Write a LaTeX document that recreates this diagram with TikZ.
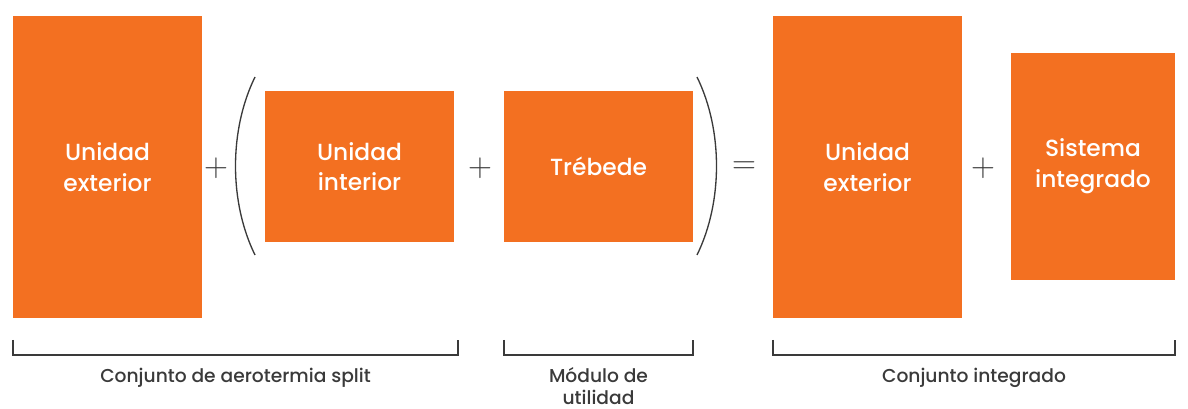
\documentclass[tikz,border=0pt]{standalone}
\usepackage{fontspec}
\setmainfont{Poppins}[BoldFont={Poppins Medium}]
\definecolor{naranja}{HTML}{F37021}
\definecolor{gris}{HTML}{3A3A3A}

\begin{document}
\begin{tikzpicture}[x=0.75pt,y=-0.75pt,line width=1pt,
  caja/.style={fill=naranja,inner sep=0pt,text=white,align=center,
    font=\fontsize{17.5}{23}\selectfont\bfseries},
  signo/.style={text=gris,inner sep=0pt,font=\fontsize{32}{32}\selectfont},
  rotulo/.style={text=gris,align=center,font=\fontsize{14}{17}\selectfont\bfseries}]
  \useasboundingbox (0,0) rectangle (1188,409);
  % cajas
  \node[caja,minimum width=141.75pt,minimum height=226.5pt] (ue1) at (107.5,167) {Unidad\\exterior};
  \node[caja,minimum width=141.75pt,minimum height=113.25pt] (ui) at (359.5,166.5) {Unidad\\interior};
  \node[caja,minimum width=141.75pt,minimum height=113.25pt] (tb) at (598.5,166.5) {Trébede};
  \node[caja,minimum width=141.75pt,minimum height=226.5pt] (ue2) at (867.5,167) {Unidad\\exterior};
  \node[caja,minimum width=123pt,minimum height=170.25pt] (si) at (1093,166.5) {Sistema\\integrado};
  % signos
  \node[signo] (mas1) at (216,168) {$+$};
  \node[signo] (mas2) at (480,168) {$+$};
  \node[signo] (igual) at (744,168) {$=$};
  \node[signo] (mas3) at (983,168) {$+$};
  % parentesis
  \draw[gris] (255,77) .. controls (229,130) and (229,202) .. (255,255);
  \draw[gris] (697,77) .. controls (723,130) and (723,202) .. (697,255);
  % llaves de abajo
  \draw[gris] (13,340) -- (13,355) -- (458,355) -- (458,340);
  \draw[gris] (504,340) -- (504,355) -- (693,355) -- (693,340);
  \draw[gris] (773,340) -- (773,355) -- (1175,355) -- (1175,340);
  \node[rotulo] (r1) at (235.5,378) {Conjunto de aerotermia split};
  \node[rotulo] (r2) at (598.5,386) {Módulo de\\utilidad};
  \node[rotulo] (r3) at (974,378) {Conjunto integrado};
\end{tikzpicture}
\end{document}
